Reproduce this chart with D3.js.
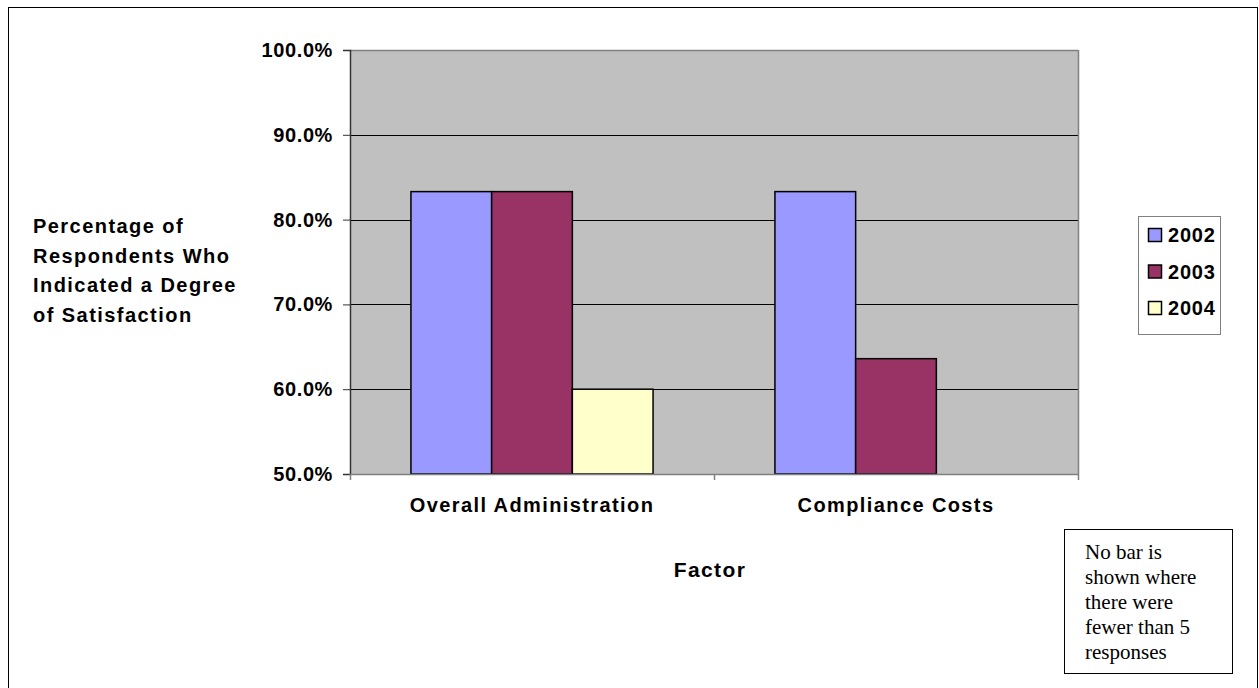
<!DOCTYPE html>
<html>
<head>
<meta charset="utf-8">
<script src="https://cdn.jsdelivr.net/npm/d3@7"></script>
<style>
html,body{margin:0;padding:0;background:#fff;}
svg{display:block;}
</style>
</head>
<body>
<svg id="chart" width="1259" height="688"></svg>
<script>
const categories = ["Overall Administration", "Compliance Costs"];
const seriesNames = ["2002", "2003", "2004"];
const values2002 = [83.3, 83.3];
const values2003 = [83.3, 63.6];
const values2004 = [60.0, null];
const seriesColors = ["#9999FF", "#993366", "#FFFFCC"];
const yTicks = [50, 60, 70, 80, 90, 100];
const yTitleLines = ["Percentage of", "Respondents Who", "Indicated a Degree", "of Satisfaction"];
const xTitle = "Factor";
const noteLines = ["No bar is", "shown where", "there were", "fewer than 5", "responses"];

const seriesValues = [values2002, values2003, values2004];

const svg = d3.select("#chart");
const font = "Liberation Sans, Arial, sans-serif";

// outer border
svg.append("rect").attr("x", 8.5).attr("y", 7.5).attr("width", 1249).attr("height", 700)
  .attr("fill", "#fff").attr("stroke", "#000").attr("stroke-width", 1);

const plot = {left: 350, right: 1078, top: 50, bottom: 474};

const x0 = d3.scaleBand().domain(categories).range([plot.left, plot.right]).paddingInner(0).paddingOuter(0);
const x1 = d3.scaleBand().domain(seriesNames).range([0, x0.bandwidth()]).paddingInner(0).paddingOuter(0.755);
const y = d3.scaleLinear().domain([50, 100]).range([plot.bottom, plot.top]);

// plot background
svg.append("rect").attr("x", plot.left).attr("y", plot.top)
  .attr("width", plot.right - plot.left).attr("height", plot.bottom - plot.top)
  .attr("fill", "#C0C0C0");

// gridlines
svg.append("g").selectAll("line").data(yTicks.filter(t => t > 50 && t < 100)).join("line")
  .attr("x1", plot.left).attr("x2", plot.right)
  .attr("y1", d => Math.round(y(d)) + 0.5).attr("y2", d => Math.round(y(d)) + 0.5)
  .attr("stroke", "#000").attr("stroke-width", 1);

// top & right borders
svg.append("line").attr("x1", plot.left).attr("x2", plot.right).attr("y1", plot.top + 0.5).attr("y2", plot.top + 0.5)
  .attr("stroke", "#808080").attr("stroke-width", 1.5);
svg.append("line").attr("x1", plot.right + 0.5).attr("x2", plot.right + 0.5).attr("y1", plot.top).attr("y2", plot.bottom)
  .attr("stroke", "#808080").attr("stroke-width", 1.5);

// bars
const data = [];
categories.forEach((c, i) => {
  seriesNames.forEach((s, j) => {
    const v = seriesValues[j][i];
    if (v != null) data.push({c, s, v, color: seriesColors[j]});
  });
});
svg.append("g").selectAll("rect").data(data).join("rect")
  .attr("x", d => x0(d.c) + x1(d.s))
  .attr("y", d => y(d.v))
  .attr("width", x1.bandwidth())
  .attr("height", d => plot.bottom - y(d.v))
  .attr("fill", d => d.color)
  .attr("stroke", "#000").attr("stroke-width", 1.5);

// y axis
const yAxis = d3.axisLeft(y).tickValues(yTicks).tickSize(7).tickPadding(10)
  .tickFormat(d => d.toFixed(1) + "%");
const gy = svg.append("g").attr("transform", `translate(${plot.left},0)`).call(yAxis);
gy.select(".domain").attr("stroke", "#333").attr("stroke-width", 1.5);
gy.selectAll(".tick line").attr("stroke", "#333");
gy.selectAll(".tick text").attr("font-family", font).attr("font-size", 20).attr("font-weight", "bold")
  .attr("fill", "#000").attr("letter-spacing", 0.6);

// x axis
const xAxis = d3.axisBottom(x0).tickSize(0).tickPadding(24);
const gx = svg.append("g").attr("transform", `translate(0,${plot.bottom})`).call(xAxis);
gx.select(".domain").attr("stroke", "#808080").attr("stroke-width", 1.5);
gx.selectAll(".tick text").attr("font-family", font).attr("font-size", 20).attr("font-weight", "bold")
  .attr("fill", "#000").attr("letter-spacing", 1.4);
// category boundary ticks
const bounds = categories.map(c => x0(c)).concat([plot.right]);
svg.append("g").selectAll("line").data(bounds).join("line")
  .attr("x1", d => d + 0.5).attr("x2", d => d + 0.5)
  .attr("y1", plot.bottom).attr("y2", plot.bottom + 6)
  .attr("stroke", "#808080").attr("stroke-width", 1.5);

// x title
svg.append("text").attr("x", 710).attr("y", 577)
  .attr("text-anchor", "middle").attr("font-family", font).attr("font-size", 21).attr("font-weight", "bold")
  .attr("letter-spacing", 1.4)
  .text(xTitle);

// y title
svg.append("g").selectAll("text").data(yTitleLines).join("text")
  .attr("x", 33).attr("y", (d, i) => 233 + i * 29.6)
  .attr("font-family", font).attr("font-size", 20).attr("font-weight", "bold").attr("letter-spacing", 1.45)
  .text(d => d);

// legend
const legend = svg.append("g");
legend.append("rect").attr("x", 1138.5).attr("y", 216.5).attr("width", 82).attr("height", 118)
  .attr("fill", "#fff").attr("stroke", "#808080").attr("stroke-width", 1);
const ly = d3.scalePoint().domain(seriesNames).range([235, 308]);
seriesNames.forEach((s, j) => {
  legend.append("rect").attr("x", 1148.5).attr("y", ly(s) - 6.5).attr("width", 13).attr("height", 13)
    .attr("fill", seriesColors[j]).attr("stroke", "#000").attr("stroke-width", 1.5);
  legend.append("text").attr("x", 1168).attr("y", ly(s) + 7)
    .attr("font-family", font).attr("font-size", 20).attr("font-weight", "bold").attr("letter-spacing", 0.8).text(s);
});

// note box
const note = svg.append("g");
note.append("rect").attr("x", 1064.5).attr("y", 529.5).attr("width", 168).attr("height", 144)
  .attr("fill", "#fff").attr("stroke", "#000").attr("stroke-width", 1);
note.selectAll("text").data(noteLines).join("text")
  .attr("x", 1085).attr("y", (d, i) => 559 + i * 25)
  .attr("font-family", "Liberation Serif, Times New Roman, serif").attr("font-size", 21)
  .text(d => d);
</script>
</body>
</html>
